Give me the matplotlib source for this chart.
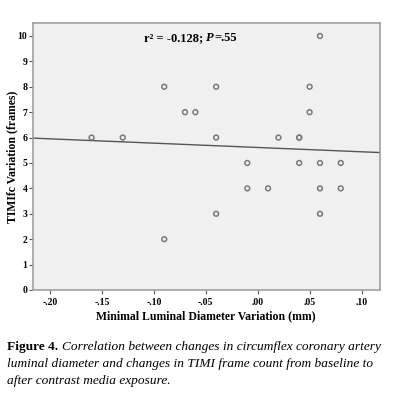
import matplotlib
matplotlib.use("Agg")
import matplotlib.pyplot as plt
import numpy as np

# data
x_vals = [-0.16, -0.13, -0.09, -0.07, -0.06, -0.04, -0.04, -0.04, -0.09,
          -0.01, -0.01, 0.01, 0.02, 0.04, 0.04, 0.04, 0.05, 0.05,
          0.06, 0.06, 0.06, 0.06, 0.08, 0.08]
y_vals = [6, 6, 8, 7, 7, 8, 6, 3, 2,
          5, 4, 4, 6, 6, 6, 5, 8, 7,
          10, 5, 4, 3, 5, 4]
fit_intercept = 5.61
fit_slope = -1.7
x_ticks = [-0.20, -0.15, -0.10, -0.05, 0.00, 0.05, 0.10]
x_tick_labels = ["-.20", "-.15", "-.10", "-.05", ".00", ".05", ".10"]
y_ticks = [0, 1, 2, 3, 4, 5, 6, 7, 8, 9, 10]

plt.rcParams['font.family'] = ['Liberation Serif', 'DejaVu Serif']

fig = plt.figure(figsize=(4.02, 3.99), dpi=100)
ax = fig.add_axes([0.0813, 0.2732, 0.8637, 0.6692])
ax.set_facecolor('#f0f0f0')
for s in ax.spines.values():
    s.set_color('#a0a0a0')
    s.set_linewidth(1.2)

xlim = (-0.2167, 0.1177)
ax.set_xlim(*xlim)
ax.set_ylim(0, 10.51)

xl = np.array(xlim)
ax.plot(xl, fit_intercept + fit_slope * xl, color='#555555', lw=1.0, zorder=2)
ax.scatter(x_vals, y_vals, s=12, facecolors='none', edgecolors='#7a7a7a',
           linewidths=1.1, zorder=3)

ax.set_xticks(x_ticks)
ax.set_xticklabels(x_tick_labels)
ax.set_yticks(y_ticks)
ax.tick_params(axis='both', direction='out', length=3, width=0.8,
               color='#555555', labelsize=7, pad=1)
for lab in ax.get_xticklabels() + ax.get_yticklabels():
    lab.set_fontweight('bold')
ax.tick_params(axis='x', pad=3)

ax.set_xlabel('Minimal Luminal Diameter Variation (mm)', fontsize=8.5,
              fontweight='bold', labelpad=2)
ax.set_ylabel('TIMIfc Variation (frames)', fontsize=8.5, fontweight='bold')
ax.yaxis.set_label_coords(-0.042, 0.5)

renderer = fig.canvas.get_renderer()

# annotation r^2 = ...; P=.55 built from pieces
ann_size = 9
ann_y = 1 - 38 / 399
a1 = fig.text(144 / 402, ann_y, 'r² = -0.128; ', fontsize=ann_size,
              fontweight='bold', va='center', ha='left')
b = a1.get_window_extent(renderer=renderer)
a2 = fig.text(b.x1 / fig.bbox.width, ann_y, 'P', fontsize=ann_size,
              fontweight='bold', style='italic', va='center', ha='left')
b = a2.get_window_extent(renderer=renderer)
fig.text(b.x1 / fig.bbox.width, ann_y, '=.55', fontsize=ann_size,
         fontweight='bold', va='center', ha='left')

# caption
cap_size = 9.6
t1 = fig.text(7 / 402, 1 - 347 / 399, 'Figure 4.', fontsize=cap_size,
              fontweight='bold', va='center', ha='left')
bb = t1.get_window_extent(renderer=renderer)
fig.text(bb.x1 / fig.bbox.width + 4 / 402, 1 - 347 / 399,
         'Correlation between changes in circumflex coronary artery',
         fontsize=cap_size, style='italic', va='center', ha='left')
fig.text(7 / 402, 1 - 364 / 399,
         'luminal diameter and changes in TIMI frame count from baseline to',
         fontsize=cap_size, style='italic', va='center', ha='left')
fig.text(7 / 402, 1 - 381 / 399,
         'after contrast media exposure.',
         fontsize=cap_size, style='italic', va='center', ha='left')

fig.savefig('out.png', dpi=100, facecolor='white')
